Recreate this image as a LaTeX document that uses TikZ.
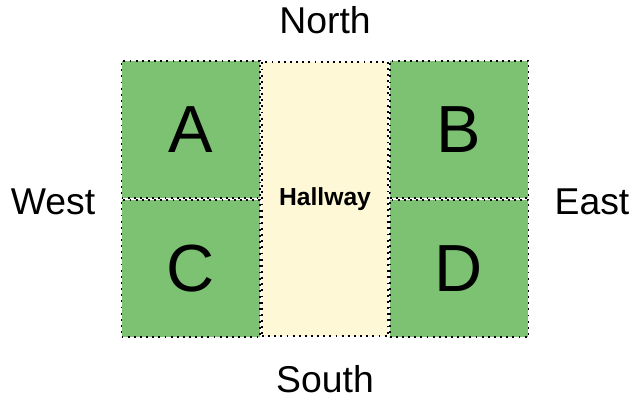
\documentclass[tikz,border=0pt]{standalone}
\usepackage{fontspec}
\setmainfont{Liberation Sans}
\usetikzlibrary{
  positioning, % for relative placement of the rooms and labels
}
\definecolor{roomgreen}{RGB}{125,194,115}
\definecolor{hallyellow}{RGB}{255,248,214}
\tikzset{
  room/.style={ % style for each room
    rectangle,draw, % drawn as a dotted rectangle
    dash pattern=on 1.4pt off 3.2pt,
    line width=1.3pt,
    fill=roomgreen,
    inner sep=0pt, % no padding between the text and the rectangle
    minimum width=104pt, % every room the same size
    minimum height=103pt,
    font=\fontsize{50}{54}\selectfont,
  },
  hall/.style={ % style for the hallway
    room, % inherit the room style
    fill=hallyellow,
    minimum width=94.5pt,
    minimum height=206pt,
    font=\fontsize{18.5}{22}\selectfont\bfseries,
  },
  compass/.style={ % style for the direction labels
    inner sep=0pt,
    font=\fontsize{28}{32}\selectfont,
  },
}
\begin{document}
\begin{tikzpicture}[x=0.75pt,y=0.75pt]
	\useasboundingbox (0,0) rectangle (639,400);
	
	\node (hall) [hall] at (325,201) {Hallway};
	
	\node (a) [room, anchor=south east] at (hall.west) {A};
	
	\node (c) [room, anchor=north east] at (hall.west) {C};
	
	\node (b) [room, anchor=south west] at (hall.east) {B};
	
	\node (d) [room, anchor=north west] at (hall.east) {D};
	
	\node (north) [compass] at (325,380) {North};
	
	\node (south) [compass] at (325,21) {South};
	
	\node (west) [compass] at (53,198) {West};
	
	\node (east) [compass] at (592,198) {East};
\end{tikzpicture}
\end{document}
